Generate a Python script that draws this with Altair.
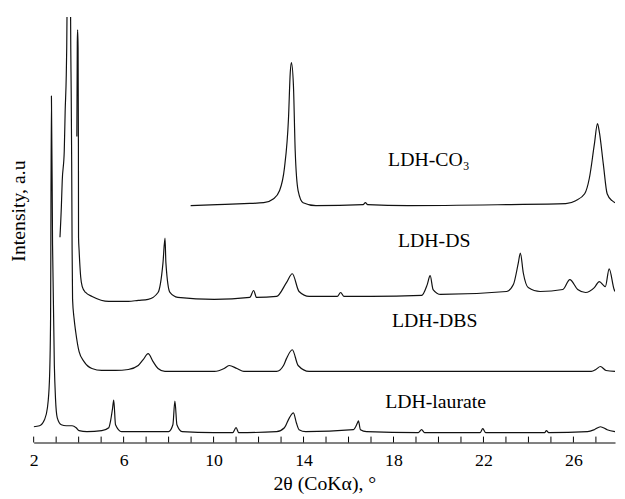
import altair as alt
import pandas as pd

# (2theta, intensity) pairs
laurate = [(2.00, 16), (2.26, 17), (2.48, 23), (2.61, 35), (2.70, 62), (2.75, 120),
           (2.79, 351), (2.84, 200), (2.92, 78), (2.97, 45), (3.05, 25), (3.23, 18),
           (3.45, 17), (3.71, 17), (3.89, 15), (4.02, 12), (4.37, 11), (5.03, 12),
           (5.34, 15), (5.42, 22), (5.51, 35), (5.56, 43), (5.64, 18), (5.91, 11),
           (8.00, 11), (8.19, 18), (8.28, 42), (8.37, 18), (8.60, 11), (10.0, 10),
           (10.85, 10), (11.0, 15), (11.12, 10), (12.8, 11), (13.15, 15), (13.37, 25),
           (13.55, 30), (13.68, 20), (13.80, 13), (14.10, 11), (16.22, 13), (16.40, 20),
           (16.44, 22), (16.53, 13), (16.8, 11), (19.10, 10), (19.25, 13), (19.38, 10),
           (21.85, 10), (21.97, 14), (22.10, 10), (24.72, 10), (24.80, 12), (24.90, 10),
           (26.63, 11), (26.93, 13), (27.20, 16), (27.50, 13), (27.85, 11)]

dbs = [(3.17, 208), (3.23, 238), (3.27, 265), (3.36, 295), (3.40, 335), (3.45, 372),
       (3.47, 400), (3.50, 470), (3.58, 480), (3.63, 470), (3.65, 400), (3.67, 352),
       (3.69, 285), (3.71, 195), (3.73, 145), (3.80, 125), (3.87, 112), (4.02, 92),
       (4.24, 82), (4.59, 75), (5.03, 73), (5.64, 73), (6.21, 74), (6.65, 78),
       (6.87, 84), (7.09, 90), (7.31, 82), (7.53, 75), (7.84, 72), (10.03, 72),
       (10.47, 75), (10.69, 78), (11.04, 75), (11.35, 72), (12.80, 72), (13.11, 78),
       (13.24, 85), (13.50, 94), (13.76, 78), (14.25, 72), (26.80, 72), (27.0, 74),
       (27.2, 77), (27.45, 73), (27.85, 72)]

ds = [(3.92, 310), (3.94, 405), (3.955, 418), (3.975, 400), (3.99, 300), (3.995, 208),
      (4.02, 195), (4.09, 168), (4.16, 158), (4.31, 152), (4.60, 148), (5.34, 143),
      (6.21, 143), (6.65, 144), (7.09, 145), (7.53, 152), (7.75, 182), (7.84, 207),
      (7.88, 182), (8.06, 152), (8.41, 147), (10.03, 145), (11.61, 147), (11.78, 154),
      (11.91, 147), (12.80, 148), (13.24, 162), (13.50, 171), (13.80, 153), (14.25, 148),
      (15.50, 148), (15.65, 152), (15.80, 148), (17.0, 148), (19.25, 149), (19.50, 160),
      (19.63, 169), (19.76, 155), (20.10, 150), (23.03, 153), (23.33, 160), (23.55, 182),
      (23.64, 192), (23.77, 172), (23.99, 157), (24.52, 153), (25.53, 155), (25.84, 165),
      (26.19, 155), (26.54, 152), (26.93, 157), (27.15, 163), (27.42, 158), (27.59, 176),
      (27.81, 155), (27.85, 153)]

co3 = [(8.98, 240), (10.16, 241), (11.35, 242), (12.23, 243), (12.67, 247), (12.93, 255),
       (13.15, 278), (13.33, 328), (13.41, 375), (13.46, 385), (13.55, 362), (13.63, 295),
       (13.76, 255), (13.98, 243), (14.55, 240), (16.65, 241), (16.75, 243), (16.85, 241),
       (18.64, 240), (23.03, 241), (25.66, 242), (26.10, 245), (26.50, 252), (26.71, 268),
       (26.93, 302), (27.07, 323), (27.15, 315), (27.33, 282), (27.50, 252), (27.72, 245),
       (27.85, 243)]

tick_values = list(range(2, 28))
label_values = [2, 6, 10, 14, 18, 22, 26]

sample_names = ["LDH-laurate", "LDH-DBS", "LDH-DS", "LDH-CO₃"]
label_theta = [17.63, 17.93, 18.20, 17.76]
label_int = [35, 117, 198, 280]

rows = []
for name, pts in zip(sample_names, [laurate, dbs, ds, co3]):
    for i, (t, v) in enumerate(pts):
        rows.append({"sample": name, "theta": t, "intensity": v, "idx": i})
df = pd.DataFrame(rows)
df_ticks = pd.DataFrame({"theta": tick_values})
df_labels = pd.DataFrame({"name": sample_names, "theta": label_theta, "intensity": label_int})

FONT = "Liberation Serif"
xscale = alt.Scale(domain=[2, 27.85], nice=False, zero=False)
yscale = alt.Scale(domain=[0, 431], nice=False, zero=False)

xaxis = alt.Axis(values=label_values, title="2θ (CoKα), °", ticks=False, tickSize=0,
                 domain=True, domainColor="black", domainWidth=1,
                 labelFont=FONT, labelFontSize=18, labelColor="black",
                 labelPadding=9, labelFlush=False,
                 titleFont=FONT, titleFontSize=20, titleFontWeight="normal",
                 titleColor="black", titlePadding=5, grid=False)
yaxis = alt.Axis(title="Intensity, a.u", labels=False, ticks=False, domain=False,
                 grid=False, titleFont=FONT, titleFontSize=20,
                 titleFontWeight="normal", titleColor="black",
                 titleX=-9, titleY=196, titleAngle=270,
                 titleBaseline="alphabetic", titleAlign="center")

lines = alt.Chart(df).mark_line(clip=True, color="#111111", strokeWidth=1.2,
                                interpolate="monotone").encode(
    x=alt.X("theta:Q", scale=xscale, axis=xaxis),
    y=alt.Y("intensity:Q", scale=yscale, axis=yaxis),
    detail="sample:N",
    order="idx:Q",
)

ticks = alt.Chart(df_ticks).mark_rule(color="black", strokeWidth=1).encode(
    x=alt.X("theta:Q", scale=xscale, axis=xaxis),
    y=alt.datum(0),
    y2=alt.datum(6),
)

texts = alt.Chart(df_labels).mark_text(
    align="left", baseline="alphabetic", font=FONT, fontSize=20, color="black"
).encode(
    x=alt.X("theta:Q", scale=xscale, axis=xaxis),
    y=alt.Y("intensity:Q", scale=yscale, axis=yaxis),
    text="name:N",
)

chart = alt.layer(lines, ticks, texts).properties(
    width=589, height=431,
    autosize=alt.AutoSizeParams(type="none"),
    padding={"left": 26, "top": 6, "right": 2, "bottom": 54},
).configure_view(stroke=None)

chart.save("out.html", embed_options={"renderer": "svg", "actions": False})
